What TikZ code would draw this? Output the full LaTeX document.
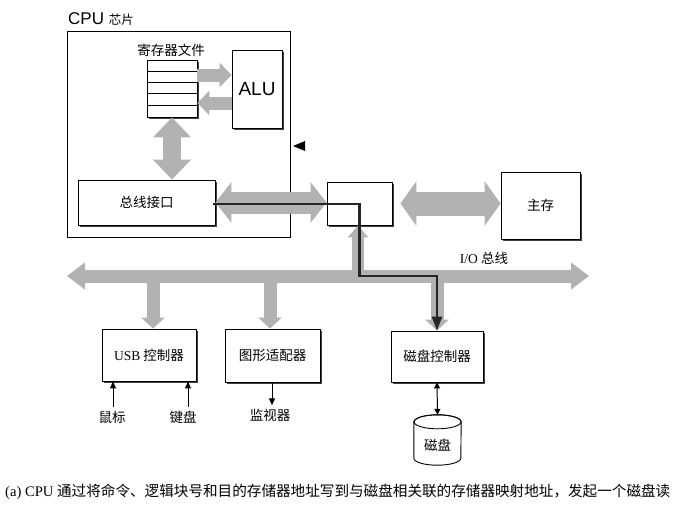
\documentclass[tikz,border=0pt]{standalone}
\usepackage{fontspec}
\setmainfont{Liberation Serif}
\newfontfamily\cjk{Noto Sans CJK SC}
\newfontfamily\lsans{Liberation Sans}
\usetikzlibrary{arrows.meta,shadows}
\definecolor{arrowgray}{RGB}{178,178,178}
\begin{document}
\begin{tikzpicture}[x=1pt,y=-1pt,
  box/.style={draw=black, line width=0.9pt, fill=white, inner sep=0pt,
    drop shadow={shadow xshift=1.6pt,shadow yshift=-1.6pt,opacity=1,fill=black!75}},
  lab/.style={font=\cjk\fontsize{13.5}{15}\selectfont},
  gline/.style={draw=arrowgray, line width=#1},
  tarrow/.style={line width=1pt, -{Triangle[width=6pt,length=7pt]}},
  blk/.style={line width=2.8pt, draw=black!85, line join=miter, -{Triangle[width=10pt,length=14pt]}}
]
\useasboundingbox (0,0) rectangle (687,506);
\fill[white] (0,0) rectangle (687,506);

% CPU chip
\node[draw, line width=1pt, minimum width=223pt, minimum height=206pt, inner sep=0pt] (cpu) at (178.5,134) {};
\node[anchor=base west, inner sep=0pt] (cpulab) at (68,24) {\lsans\fontsize{17}{20}\selectfont CPU {\cjk\fontsize{12.5}{14}\selectfont 芯片}};

% register file
\node[box, minimum width=50pt, minimum height=57pt] (reg) at (172,88.5) {};
\foreach \k in {1,...,4}
  \draw[line width=0.6pt] ([yshift=-\k*11.4pt]reg.north west) -- ([yshift=-\k*11.4pt]reg.north east);
\node[lab, font=\cjk\fontsize{13.5}{15}\selectfont] (reglab) at (171,50) {寄存器文件};

% ALU
\node[box, minimum width=50pt, minimum height=78pt, font=\lsans\fontsize{19}{22}\selectfont] (alu) at (257,89) {ALU};

% bus interface
\node[box, lab, minimum width=137pt, minimum height=45pt] (iface) at (146.5,202.5) {总线接口};

% I/O bridge
\node[box, minimum width=65pt, minimum height=43pt] (bridge) at (359.5,203.5) {};

% main memory
\node[box, lab, minimum width=79pt, minimum height=67pt] (mem) at (540.5,205.5) {主存};

% controllers
\node[box, lab, minimum width=94pt, minimum height=52pt] (usb) at (149,355) {{\rmfamily USB} 控制器};
\node[box, lab, minimum width=95pt, minimum height=53pt] (gfx) at (272.5,355.5) {图形适配器};
\node[box, lab, minimum width=92pt, minimum height=51pt] (dctl) at (437,356.5) {磁盘控制器};

% bus coordinates
\coordinate (busL) at (67,276);
\coordinate (busR) at (589,276);

% gray arrows
\draw[gline=13pt, -{Triangle[width=24pt,length=12pt]}] ([yshift=13.5pt]reg.east) -- ([yshift=13.5pt]reg.east -| alu.west);
\draw[gline=13pt, -{Triangle[width=24pt,length=12pt]}] ([yshift=-14.5pt]reg.east -| alu.west) -- ([yshift=-14.5pt]reg.east);
\draw[gline=18pt, {Triangle[width=37pt,length=20pt]}-{Triangle[width=37pt,length=20pt]}] (reg.south) -- (reg.south |- iface.north);
\draw[gline=22pt, {Triangle[width=40pt,length=16pt]}-{Triangle[width=40pt,length=16pt]}] (iface.east) -- (iface.east -| bridge.west);
\draw[gline=24pt, {Triangle[width=44pt,length=16pt]}-{Triangle[width=44pt,length=16pt]}] ([xshift=8pt]bridge.east) -- (bridge.east -| mem.west);
\draw[gline=13pt, {Triangle[width=26pt,length=18pt]}-{Triangle[width=26pt,length=18pt]}] (busL) -- (busR);
\draw[gline=13pt, -{Triangle[width=23pt,length=11pt]}] ([xshift=4pt]usb.north |- busL) -- ([xshift=4pt]usb.north);
\draw[gline=13pt, -{Triangle[width=23pt,length=11pt]}] ([xshift=-2.5pt]gfx.north |- busL) -- ([xshift=-2.5pt]gfx.north);
\draw[gline=13pt, -{Triangle[width=23pt,length=11pt]}] (dctl.north |- busL) -- (dctl.north);
\draw[gline=12pt, -{Triangle[width=20pt,length=12pt]}] ([xshift=-1.5pt]bridge.south |- busL) -- ([xshift=-1.5pt]bridge.south);

\node[font=\fontsize{13.5}{15}\selectfont] (buslab) at (484,258) {I/O {\cjk 总线}};

% black marker triangle
\fill[black] (293,146) -- (305,141) -- (305,151) -- cycle;

% black data path
\draw[blk] ([xshift=-2pt,yshift=-1.5pt]iface.east) -| (bridge.center |- busL) -| (dctl.north);

% peripherals
\node[lab] (mouse) at (112,417) {鼠标};
\node[lab] (kbd) at (183,417) {键盘};
\node[lab] (mon) at (270,415) {监视器};
\draw[tarrow] ([xshift=1pt]mouse.north) -- ([xshift=1pt]mouse.north |- usb.south);
\draw[tarrow] ([xshift=5pt]kbd.north) -- ([xshift=5pt]kbd.north |- usb.south);
\draw[tarrow] ([xshift=2pt]mon.north |- gfx.south) -- ([xshift=2pt]mon.north);

% disk
\node[inner sep=0pt, minimum width=47pt, minimum height=50pt] (disk) at (437.5,440) {};
\draw[line width=0.9pt, fill=white] ([yshift=-7pt]disk.north west) -- ([yshift=7pt]disk.south west)
  arc[start angle=180, end angle=0, x radius=23.5, y radius=7]
  -- ([yshift=-7pt]disk.north east)
  arc[start angle=0, end angle=-180, x radius=23.5, y radius=7] -- cycle;
\draw[line width=0.9pt] ([yshift=-7pt]disk.north) ellipse [x radius=23.5, y radius=7];
\node[lab] (disklab) at (437.5,445) {磁盘};
\draw[line width=1pt, {Triangle[width=6pt,length=6pt]}-{Triangle[width=6pt,length=6pt]}] (dctl.south) -- (disk.north);

% caption
\node[anchor=base west, inner sep=0pt] (cap) at (5,496) {\fontsize{14.6}{16}\selectfont (a) CPU {\cjk 通过将命令、逻辑块号和目的存储器地址写到与磁盘相关联的存储器映射地址，发起一个磁盘读}};
\end{tikzpicture}
\end{document}
